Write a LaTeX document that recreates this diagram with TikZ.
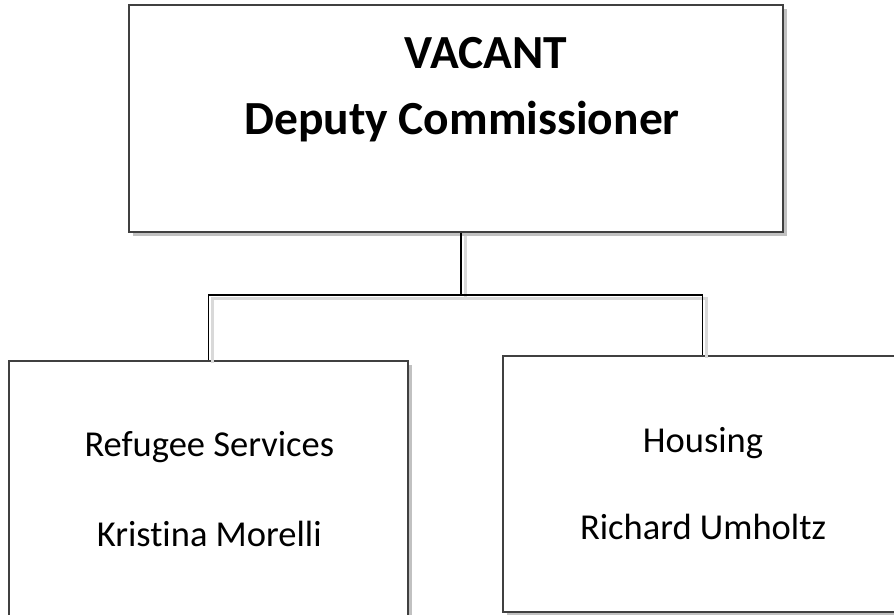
\documentclass[tikz,border=0pt]{standalone}
\usepackage{fontspec}
\setmainfont{Carlito}[Ligatures=NoCommon]
\usepackage{tikz}
\usetikzlibrary{positioning}
\usetikzlibrary{shadows}

\begin{document}
\begin{tikzpicture}[x=1pt, y=-1pt,
  unitbox/.style={draw=black!75, line width=1.4pt, fill=white,
    drop shadow={shadow xshift=4pt, shadow yshift=-4pt, fill=black!30, opacity=0.8}},
  headtext/.style={anchor=base, font=\bfseries\fontsize{47.5}{56}\selectfont},
  unittext/.style={anchor=base, font=\fontsize{36.5}{44}\selectfont},
  link/.style={line width=1.8pt},
  linkshadow/.style={line width=3pt, black!15}]
  \useasboundingbox (0,0) rectangle (894,614);
  \clip (0,0) rectangle (894,614);
  % boxes
  \coordinate (fork) at (461,295);
  \node [unitbox, minimum width=654pt, minimum height=227pt] (dc) at (456,118.5) {};
  \node [unitbox, minimum width=399pt, minimum height=272pt] (rs) at (208.5,497) {};
  \node [unitbox, minimum width=399pt, minimum height=256pt] (hs) at (702.5,484) {};
  % texts
  \node [headtext] (dctitle) at (486,68) {VACANT};
  \node [headtext] (dcname) at (462,134.3) {Deputy Commissioner};
  \node [unittext] (rstitle) at (209.3,456.7) {Refugee Services};
  \node [unittext] (rsname) at (209.3,546) {Kristina Morelli};
  \node [unittext] (hstitle) at (703,452.7) {Housing};
  \node [unittext] (hsname) at (703,539.3) {Richard Umholtz};
  % connectors
  \draw [linkshadow] ([shift={(4,3)}]fork |- dc.south) -- ([shift={(4,3)}]fork);
  \draw [linkshadow] ([shift={(4,3)}]rs.north) |- ([shift={(4,3)}]fork) -| ([shift={(4,3)}]hs.north);
  \draw [link] (fork |- dc.south) -- (fork);
  \draw [link] (rs.north) |- (fork) -| (hs.north);
\end{tikzpicture}
\end{document}
